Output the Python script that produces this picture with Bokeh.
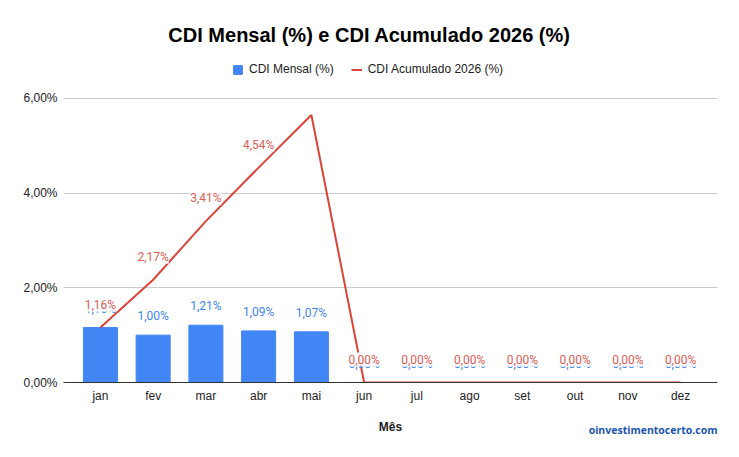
from bokeh.plotting import figure
from bokeh.core.properties import value
from bokeh.models import (ColumnDataSource, FactorRange, Range1d, LabelSet, Label, Title,
                          Legend, LegendItem, CustomJSTickFormatter, FixedTicker)
from bokeh.embed import file_html
from bokeh.resources import INLINE

# Monthly CDI and year-to-date accumulated CDI for 2026 (%)
meses = ["jan", "fev", "mar", "abr", "mai", "jun", "jul", "ago", "set", "out", "nov", "dez"]
cdi_mensal = [1.16, 1.00, 1.21, 1.09, 1.07, 0, 0, 0, 0, 0, 0, 0]
cdi_acumulado = [1.16, 2.17, 3.41, 4.54, 5.65, 0, 0, 0, 0, 0, 0, 0]
y_ticks = [0, 2, 4, 6]


def pct(v):
    return f"{v:.2f}".replace(".", ",") + "%"


rotulo_mensal = [pct(v) for v in cdi_mensal]
# the May accumulated value is not labelled
rotulo_acumulado = [pct(v) if m != "mai" else "" for m, v in zip(meses, cdi_acumulado)]

src = ColumnDataSource(dict(mes=meses, mensal=cdi_mensal, acum=cdi_acumulado,
                            lm=rotulo_mensal, la=rotulo_acumulado))
src_la = ColumnDataSource(dict(mes=[m for m, t in zip(meses, rotulo_acumulado) if t],
                               acum=[v for v, t in zip(cdi_acumulado, rotulo_acumulado) if t],
                               la=[t for t in rotulo_acumulado if t]))

BLUE = "#4285f4"
RED = "#db4437"

# the frame reaches the top of the canvas so that title and legend sit inside it;
# the y range above 6% only holds that header space
p = figure(width=739, height=457, output_backend="svg", toolbar_location=None,
           x_range=FactorRange(*meses, range_padding=0.2, range_padding_units="absolute"),
           y_range=Range1d(0, 8.07),
           min_border_left=63, min_border_right=22, min_border_top=0, min_border_bottom=75)
p.outline_line_color = None
p.background_fill_color = "white"
p.border_fill_color = "white"

bars = p.vbar(x="mes", top="mensal", width=0.645, source=src, color=BLUE)
line = p.line(x="mes", y="acum", source=src, line_color=RED, line_width=2)

# data labels (the accumulated labels carry a white box and sit over the monthly ones)
p.add_layout(LabelSet(x="mes", y="mensal", text="lm", source=src, y_offset=19,
                      text_align="center", text_baseline="middle",
                      text_font=value("Roboto"), text_font_size="12px", text_color=BLUE))
p.add_layout(LabelSet(x="mes", y="acum", text="la", source=src_la, y_offset=23,
                      text_align="center", text_baseline="middle",
                      background_fill_color="white", background_fill_alpha=0.85,
                      text_font=value("Roboto"), text_font_size="12px", text_color="#e06055"))

# axes
p.yaxis.ticker = FixedTicker(ticks=y_ticks)
p.yaxis.formatter = CustomJSTickFormatter(code="return tick.toFixed(2).replace('.', ',') + '%';")
p.yaxis.axis_line_color = None
p.yaxis.major_tick_line_color = None
p.yaxis.major_tick_out = 0
p.yaxis.minor_tick_line_color = None
p.yaxis.major_label_text_font = "Liberation Sans"
p.yaxis.major_label_text_font_size = "12px"
p.yaxis.major_label_text_color = "#222222"
p.yaxis.major_label_standoff = 6

p.xaxis.axis_line_color = "#333333"
p.xaxis.axis_line_width = 1
p.xaxis.major_tick_line_color = None
p.xaxis.major_tick_out = 0
p.xaxis.minor_tick_line_color = None
p.xaxis.major_label_text_font = "Liberation Sans"
p.xaxis.major_label_text_font_size = "12px"
p.xaxis.major_label_text_color = "#222222"
p.xaxis.major_label_standoff = 6
p.xaxis.axis_label = "Mês"
p.xaxis.axis_label_text_font = "Liberation Sans"
p.xaxis.axis_label_text_font_style = "bold"
p.xaxis.axis_label_text_font_size = "12px"
p.xaxis.axis_label_text_color = "#222222"
p.xaxis.axis_label_standoff = 14

p.xgrid.grid_line_color = None
p.ygrid.grid_line_color = "#cccccc"
p.ygrid.ticker = FixedTicker(ticks=y_ticks)

legend = Legend(items=[LegendItem(label="CDI Mensal (%)", renderers=[bars]),
                       LegendItem(label="CDI Acumulado 2026 (%)", renderers=[line])],
                orientation="horizontal", location=(169, 306),
                border_line_color=None, background_fill_alpha=0,
                padding=0, margin=0, spacing=17, label_standoff=6,
                glyph_width=11, glyph_height=11, label_height=14,
                label_text_font="Liberation Sans", label_text_font_size="12px",
                label_text_color="#222222")
p.add_layout(legend, "center")

p.add_layout(Label(x=306, y=348, x_units="screen", y_units="screen",
                   text="CDI Mensal (%) e CDI Acumulado 2026 (%)",
                   text_align="center", text_baseline="middle",
                   text_font="Liberation Sans", text_font_style="bold",
                   text_font_size="20px", text_color="#000000"))

p.add_layout(Title(text="oinvestimentocerto.com", align="right", vertical_align="top",
                   standoff=-28, text_font="Open Sans", text_font_style="bold",
                   text_font_size="10.5px", text_color="#1a55b0"), "below")

open("out.html", "w").write(file_html(p, INLINE))
